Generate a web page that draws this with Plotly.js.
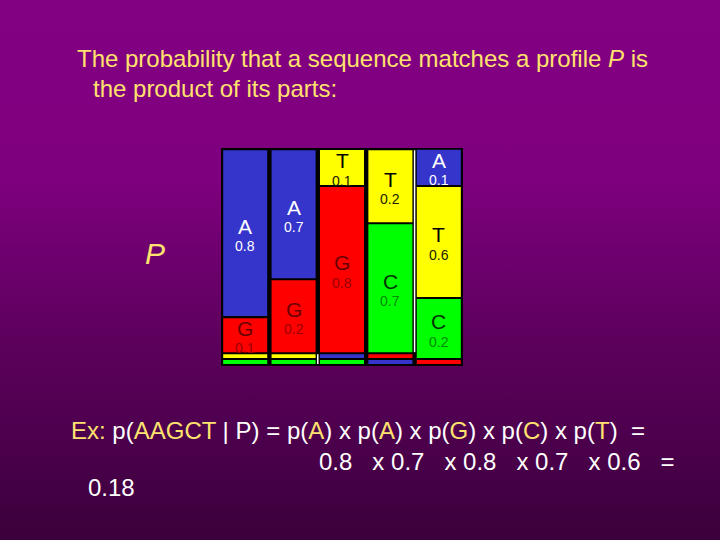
<!DOCTYPE html>
<html>
<head>
<meta charset="utf-8">
<script src="https://cdn.plot.ly/plotly-3.0.1.min.js"></script>
<style>
  html, body { margin: 0; padding: 0; }
  body {
    width: 720px; height: 540px; overflow: hidden;
    background: linear-gradient(to bottom, #820082 0%, #7f007f 32%, #5e005e 62%, #3b003b 100%);
  }
  #chart { width: 720px; height: 540px; }
</style>
</head>
<body>
<div id="chart"></div>
<script>
// ---- data ----
const positions = ['1', '2', '3', '4', '5'];
const letters = ['A', 'C', 'G', 'T'];
// probabilities printed inside the profile (null = thin unlabeled stripe)
const probA = [0.8, 0.7, null, null, 0.1];
const probC = [null, null, null, 0.7, 0.2];
const probG = [0.1, 0.2, 0.8, null, null];
const probT = [null, null, 0.1, 0.2, 0.6];
// height of each block as drawn in the picture (share of the column)
const shownA = [0.761, 0.587, 0.018, 0.018, 0.161];
const shownC = [0.018, 0.018, 0.018, 0.587, 0.271];
const shownG = [0.156, 0.330, 0.757, 0.018, 0.018];
const shownT = [0.018, 0.018, 0.161, 0.330, 0.505];
// stacking order of the blocks in each column, bottom to top
const stackOrder = ['CTGA', 'CTGA', 'CAGT', 'AGCT', 'GCTA'];
// example sequence
const sequence = ['A', 'A', 'G', 'C', 'T'];
const seqProbs = ['0.8', '0.7', '0.8', '0.7', '0.6'];
const result = '0.18';

// ---- styling ----
const FONT = 'Liberation Sans, Arial, sans-serif';
const YEL = '#FFE36E';
const fill = { A: '#3535CC', C: '#00FF00', G: '#FF0000', T: '#FFFF00' };
const letterInk = { A: '#FFFFFF', C: '#003300', G: '#6a0000', T: '#000000' };
const valueInk = { A: '#FFFFFF', C: '#008a00', G: '#9a0000', T: '#222200' };
const prob = { A: probA, C: probC, G: probG, T: probT };
const shown = { A: shownA, C: shownC, G: shownG, T: shownT };

const GAP = 0.0092;
const base = { A: [], C: [], G: [], T: [] };
positions.forEach((p, i) => {
  let y = GAP;
  for (const L of stackOrder[i]) {
    base[L][i] = y;
    y += shown[L][i] + GAP;
  }
});

const traces = letters.map(L => ({
  type: 'bar',
  x: positions,
  y: shown[L],
  base: base[L],
  width: 0.91,
  marker: { color: fill[L], line: { width: 0 } },
  hoverinfo: 'skip',
  showlegend: false
}));

const annotations = [];
letters.forEach(L => {
  positions.forEach((p, i) => {
    const v = prob[L][i];
    if (v === null) return;
    const yc = base[L][i] + shown[L][i] / 2;
    annotations.push({ x: i, y: yc, xref: 'x', yref: 'y', text: L, showarrow: false,
      yshift: 7, font: { family: FONT, size: 21, color: letterInk[L] } });
    annotations.push({ x: i, y: yc, xref: 'x', yref: 'y', text: String(v), showarrow: false,
      yshift: -13, font: { family: FONT, size: 14, color: valueInk[L] } });
  });
});

// layout text placement (page pixels -> paper coords)
const L0 = 221, R0 = 463, T0 = 148, B0 = 366;
const px = v => (v - L0) / (R0 - L0);
const py = v => (B0 - v) / (B0 - T0);
function txt(text, x, y, size, color, extra) {
  return Object.assign({ text, x: px(x), y: py(y), xref: 'paper', yref: 'paper',
    xanchor: 'left', yanchor: 'middle', showarrow: false,
    font: { family: FONT, size, color } }, extra || {});
}
annotations.push(txt('The probability that a sequence matches a profile <i>P</i> is', 75, 58, 24, YEL));
annotations.push(txt('the product of its parts:', 91, 88, 24, YEL));
annotations.push(txt('<i>P</i>', 155, 253, 30, YEL, { xanchor: 'center' }));

const y = s => '<span style="color:' + YEL + '">' + s + '</span>';
let line1 = y('Ex:') + ' p(' + y(sequence.join('')) + ' | P) = ' +
  sequence.map(s => 'p(' + y(s) + ')').join(' x ') + '\u00A0 =';
annotations.push(txt(line1, 69, 430, 24, '#FFFFFF'));
let line2 = seqProbs.join('\u00A0\u00A0 x ') + '\u00A0\u00A0 =';
annotations.push(txt(line2, 317, 461, 24, '#FFFFFF'));
annotations.push(txt(result, 86, 487, 24, '#FFFFFF'));

const shapes = [
  { type: 'line', xref: 'x', yref: 'y', x0: 3.5, x1: 3.5,
    y0: base.C[3], y1: base.T[3] + shown.T[3], line: { color: '#FFFFFF', width: 1.5 } },
  { type: 'line', xref: 'x', yref: 'y', x0: 1.5, x1: 1.5,
    y0: base.C[2], y1: base.A[2] + shown.A[2], line: { color: '#FFFFFF', width: 1.5 } }
];

const layout = {
  width: 720, height: 540,
  margin: { l: L0, r: 720 - R0, t: T0, b: 540 - B0, pad: 0 },
  paper_bgcolor: 'rgba(0,0,0,0)',
  plot_bgcolor: '#000000',
  barmode: 'overlay',
  showlegend: false,
  xaxis: { type: 'category', range: [-0.5, 4.5], visible: false, fixedrange: true },
  yaxis: { range: [0, 1], visible: false, fixedrange: true },
  annotations, shapes
};

Plotly.newPlot('chart', traces, layout, { displayModeBar: false, staticPlot: true });
</script>
</body>
</html>
